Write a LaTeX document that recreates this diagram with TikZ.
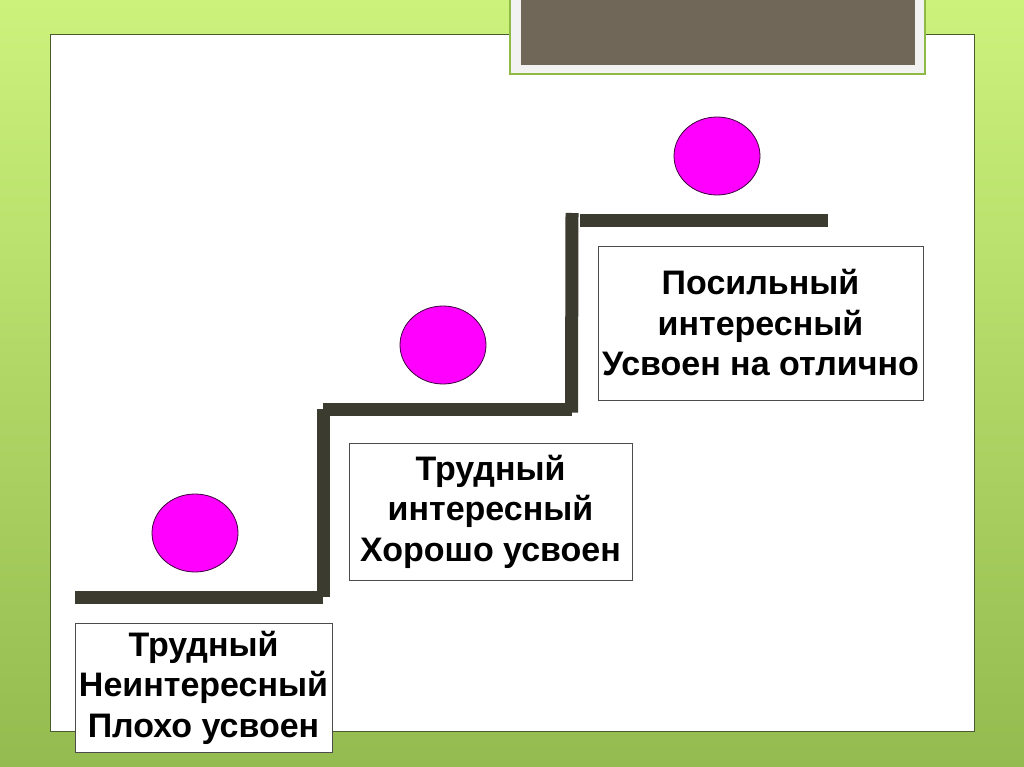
\documentclass[tikz,border=0pt]{standalone}
\usepackage{fontspec}
\setmainfont{Liberation Sans}
\usetikzlibrary{calc,shapes.geometric}

\definecolor{bgtop}{HTML}{CDF27C}
\definecolor{bgbottom}{HTML}{93BB4F}
\definecolor{panelline}{HTML}{4A5A30}
\definecolor{titlebrown}{HTML}{706758}
\definecolor{titlegreen}{HTML}{8DBB45}
\definecolor{stair}{HTML}{3C3B2F}
\definecolor{ballpink}{RGB}{255,0,255}
\definecolor{ballline}{RGB}{60,0,60}

\tikzset{
  stairline/.style={line width=13pt,color=stair},
  ball/.style={ellipse,draw=ballline,line width=0.8pt,fill=ballpink,
    minimum width=86pt,minimum height=78pt,inner sep=0pt},
  labelbox/.style={draw=black!70,line width=0.8pt,fill=white,align=center,
    font=\bfseries\fontsize{34}{40.5}\selectfont,inner sep=0pt}
}

\begin{document}
\begin{tikzpicture}[x=1pt,y=-1pt]
\useasboundingbox (0,0) rectangle (1024,767);

\shade[top color=bgtop,bottom color=bgbottom] (0,0) rectangle (1024,767);
\draw[panelline,line width=1pt,fill=white] (50,35) rectangle (974,731);

\draw[titlegreen,line width=1.2pt,fill=white!95!black] (510,-2) rectangle (925,74);
\fill[titlebrown] (521,-2) rectangle (915,65);

\coordinate (S1) at (75,597.5);
\coordinate (S2) at (323,597.5);
\coordinate (S3) at (323,409.5);
\coordinate (S4) at (572,409.5);
\coordinate (S5) at (572,213);
\coordinate (S6) at (580,221);
\coordinate (S7) at (828,221);

\draw[stairline] (S1) -- (S2);
\draw[stairline] ($(S2)+(0,-1)$) -- ($(S3)+(0,-1)$);
\draw[stairline] (S3) -- (S4);
\draw[stairline] ($(S4)+(-0.5,3)$) -- (S5);
\draw[stairline] (S6) -- (S7);

\node[ball] (ball1) at (195,533) {};
\node[ball] (ball2) at (443,345) {};
\node[ball] (ball3) at (717,156) {};

\node[labelbox,minimum width=257pt,minimum height=129pt] (box1) at (203.5,687.5)
  {Трудный\\Неинтересный\\Плохо усвоен};
\node[labelbox,minimum width=283pt,minimum height=137pt] (box2) at (490.5,511.5)
  {Трудный\\интересный\\Хорошо усвоен};
\node[labelbox,minimum width=325pt,minimum height=154pt] (box3) at (760.5,323)
  {Посильный\\интересный\\Усвоен на отлично};

\end{tikzpicture}
\end{document}
